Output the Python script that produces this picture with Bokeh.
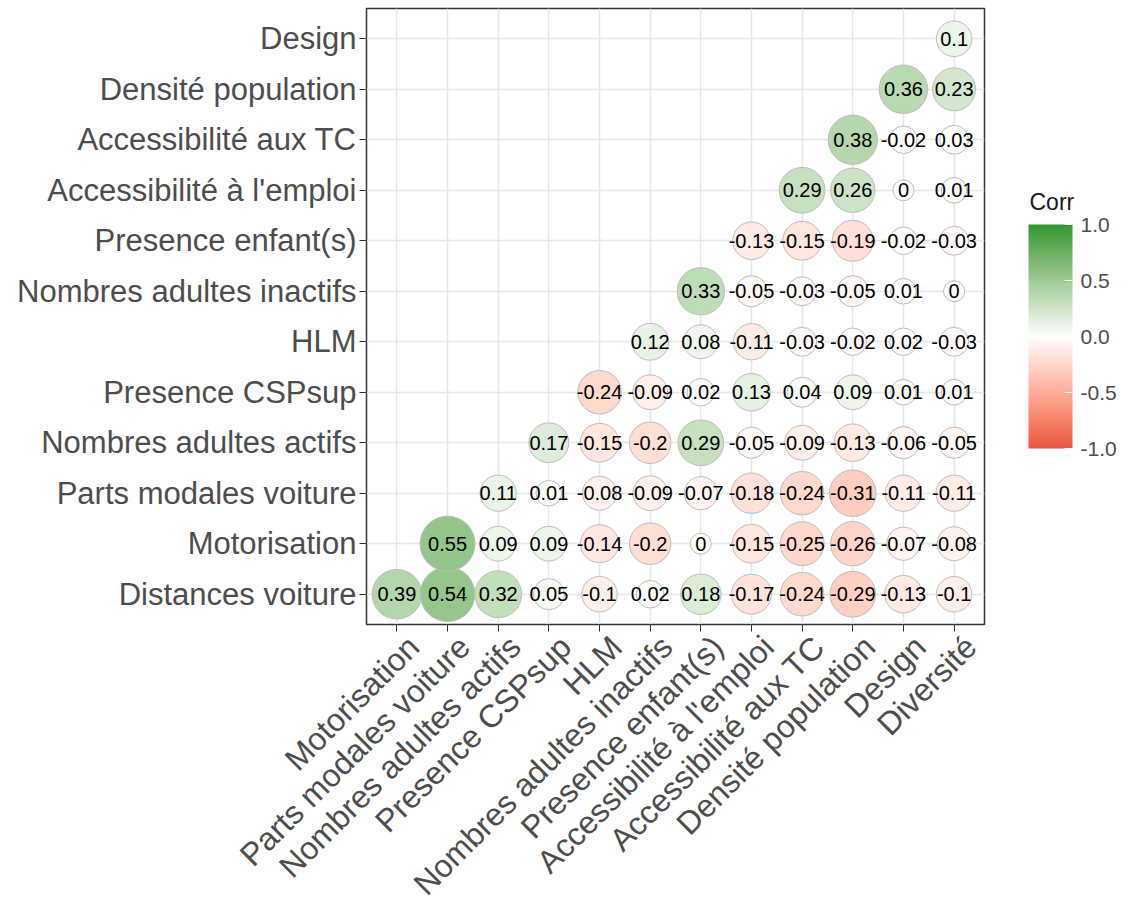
import math
from bokeh.plotting import figure
from bokeh.models import (ColumnDataSource, Range1d, FixedTicker, LinearColorMapper,
                          ColorBar, PrintfTickFormatter, LinearAxis)
from bokeh.core.properties import value
from bokeh.embed import file_html
from bokeh.resources import INLINE

# ---------------- data ----------------
variables = ["Distances voiture", "Motorisation", "Parts modales voiture",
             "Nombres adultes actifs", "Presence CSPsup", "HLM",
             "Nombres adultes inactifs", "Presence enfant(s)",
             "Accessibilité à l'emploi", "Accessibilité aux TC",
             "Densité population", "Design", "Diversité"]
x_labels = variables[1:]
y_labels = variables[:-1]

# correlations of each row variable with the variables that follow it
r_distances = [0.39, 0.54, 0.32, 0.05, -0.10, 0.02, 0.18, -0.17, -0.24, -0.29, -0.13, -0.10]
r_motorisation = [0.55, 0.09, 0.09, -0.14, -0.20, 0.00, -0.15, -0.25, -0.26, -0.07, -0.08]
r_parts_modales = [0.11, 0.01, -0.08, -0.09, -0.07, -0.18, -0.24, -0.31, -0.11, -0.11]
r_adultes_actifs = [0.17, -0.15, -0.20, 0.29, -0.05, -0.09, -0.13, -0.06, -0.05]
r_csp_sup = [-0.24, -0.09, 0.02, 0.13, 0.04, 0.09, 0.01, 0.01]
r_hlm = [0.12, 0.08, -0.11, -0.03, -0.02, 0.02, -0.03]
r_adultes_inactifs = [0.33, -0.05, -0.03, -0.05, 0.01, 0.00]
r_enfants = [-0.13, -0.15, -0.19, -0.02, -0.03]
r_acc_emploi = [0.29, 0.26, 0.00, 0.01]
r_acc_tc = [0.38, -0.02, 0.03]
r_densite = [0.36, 0.23]
r_design = [0.10]

rows = [r_distances, r_motorisation, r_parts_modales, r_adultes_actifs, r_csp_sup,
        r_hlm, r_adultes_inactifs, r_enfants, r_acc_emploi, r_acc_tc, r_densite, r_design]

colorbar_ticks = [-1.0, -0.5, 0.0, 0.5, 1.0]
legend_title = "Corr"

LOW, MID, HIGH = "#E8553D", "#FFFFFF", "#2F952F"

# ---------------- colour helpers (CIELAB interpolation like ggplot2) ----------------
def _hex_rgb(h):
    h = h.lstrip("#")
    return [int(h[i:i + 2], 16) / 255.0 for i in (0, 2, 4)]

def _to_lab(h):
    r, g, b = [c / 12.92 if c <= 0.04045 else ((c + 0.055) / 1.055) ** 2.4 for c in _hex_rgb(h)]
    X = (0.4124 * r + 0.3576 * g + 0.1805 * b) / 0.95047
    Y = (0.2126 * r + 0.7152 * g + 0.0722 * b) / 1.0
    Z = (0.0193 * r + 0.1192 * g + 0.9505 * b) / 1.08883
    d = 6 / 29
    f = lambda t: t ** (1 / 3) if t > d ** 3 else t / (3 * d * d) + 4 / 29
    fx, fy, fz = f(X), f(Y), f(Z)
    return (116 * fy - 16, 500 * (fx - fy), 200 * (fy - fz))

def _from_lab(L, a, b):
    d = 6 / 29
    fy = (L + 16) / 116
    fx = fy + a / 500
    fz = fy - b / 200
    finv = lambda t: t ** 3 if t > d else 3 * d * d * (t - 4 / 29)
    X, Y, Z = finv(fx) * 0.95047, finv(fy), finv(fz) * 1.08883
    r = 3.2406 * X - 1.5372 * Y - 0.4986 * Z
    g = -0.9689 * X + 1.8758 * Y + 0.0415 * Z
    bb = 0.0557 * X - 0.2040 * Y + 1.0570 * Z
    out = []
    for c in (r, g, bb):
        c = 12.92 * c if c <= 0.0031308 else 1.055 * c ** (1 / 2.4) - 0.055
        out.append(min(255, max(0, round(c * 255))))
    return "#%02X%02X%02X" % tuple(out)

lab_low, lab_mid, lab_high = _to_lab(LOW), _to_lab(MID), _to_lab(HIGH)

def _ramp(v):
    end = lab_high if v >= 0 else lab_low
    t = abs(v)
    return _from_lab(*[m + (e - m) * t for m, e in zip(lab_mid, end)])

N = 256
palette = [_ramp(-1 + 2 * (k + 0.5) / N) for k in range(N)]
mapper = LinearColorMapper(palette=palette, low=-1, high=1)

# ---------------- cells ----------------
xs, ys, rs, labels, sizes = [], [], [], [], []
max_abs = max(abs(v) for row_ in rows for v in row_)
for i, row_ in enumerate(rows):
    for k, v in enumerate(row_):
        xs.append(i + k + 1)
        ys.append(i + 1)
        rs.append(v)
        labels.append(f"{v:g}" if v != 0 else "0")
        sizes.append(21 + 34 * math.sqrt(abs(v) / max_abs))

src = ColumnDataSource(dict(x=xs, y=ys, r=rs, label=labels, size=sizes))

FONT = "Liberation Sans"
FRAME_L, FRAME_T, FRAME_W, FRAME_H = 366, 8, 618, 616
x_lo, x_hi = 0.4, len(x_labels) + 0.6
y_lo, y_hi = 0.4, len(y_labels) + 0.6
px_per_y = FRAME_H / (y_hi - y_lo)

p = figure(frame_width=FRAME_W, frame_height=FRAME_H,
           x_range=Range1d(x_lo, x_hi), y_range=Range1d(y_lo, y_hi),
           x_axis_location=None,
           output_backend="svg", toolbar_location=None,
           min_border_left=FRAME_L, min_border_top=FRAME_T, min_border_right=140,
           min_border_bottom=0,
           background_fill_color="white", border_fill_color="white")

p.outline_line_color = "#333333"
p.outline_line_width = 1.5

cat_ticks_x = list(range(1, len(x_labels) + 1))
cat_ticks_y = list(range(1, len(y_labels) + 1))

# x axis 1: tick marks only (at category centres), no labels drawn
ax_ticks = LinearAxis(ticker=FixedTicker(ticks=cat_ticks_x))
ax_ticks.major_label_text_color = None
ax_ticks.major_label_text_font_size = "1px"
ax_ticks.major_label_standoff = 0
# x axis 2: rotated labels, anchored like ggplot (hjust = 1, vjust = 1)
label_shift = 0.33
ax_lab = LinearAxis(ticker=FixedTicker(ticks=[t + label_shift for t in cat_ticks_x]))
ax_lab.major_label_overrides = {t + label_shift: s for t, s in zip(cat_ticks_x, x_labels)}
ax_lab.major_label_orientation = math.pi / 4
ax_lab.major_tick_line_color = None
ax_lab.major_tick_out = 0
ax_lab.major_tick_in = 0
ax_lab.major_label_standoff = 10
p.add_layout(ax_ticks, "below")
p.add_layout(ax_lab, "below")

p.yaxis.ticker = FixedTicker(ticks=cat_ticks_y)
p.yaxis.major_label_overrides = {t: s for t, s in zip(cat_ticks_y, y_labels)}

for ax in (ax_ticks, ax_lab, p.yaxis[0]):
    ax.axis_line_color = None
    ax.minor_tick_line_color = None
    ax.major_label_text_font = FONT
for ax in (ax_lab, p.yaxis[0]):
    ax.major_label_text_color = "#4D4D4D"
for ax in (ax_ticks, p.yaxis[0]):
    ax.major_tick_line_color = "#333333"
    ax.major_tick_line_width = 1
    ax.major_tick_out = 7
    ax.major_tick_in = 0
ax_lab.major_label_text_font_size = "32px"
p.yaxis.major_label_text_font_size = "31px"
p.yaxis.major_label_standoff = 3

p.xgrid.ticker = FixedTicker(ticks=cat_ticks_x)
p.xgrid.grid_line_color = "#E6E6E6"
p.ygrid.grid_line_color = "#E6E6E6"
p.xgrid.grid_line_width = 1.5
p.ygrid.grid_line_width = 1.5

p.scatter("x", "y", size="size", source=src,
          fill_color={"field": "r", "transform": mapper},
          line_color="#BDBDBD", line_width=1)

p.text("x", "y", text="label", source=src, text_align="center", text_baseline="middle",
       text_font=value(FONT), text_font_size="20px", text_color="#000000")

# ---------------- colour bar legend, right of the panel ----------------
bar_left, bar_top, bar_w, bar_h, pad = 1028, 224, 44, 224, 4
cb = ColorBar(color_mapper=mapper, ticker=FixedTicker(ticks=colorbar_ticks),
              formatter=PrintfTickFormatter(format="%.1f"),
              width=bar_w, height=bar_h,
              location=(bar_left - FRAME_L - pad, (FRAME_T + FRAME_H) - (bar_top + bar_h) - pad),
              orientation="vertical",
              major_label_text_font=FONT, major_label_text_font_size="21px",
              major_label_text_color="#4D4D4D", label_standoff=8,
              major_tick_line_color="white", major_tick_in=8, major_tick_out=0,
              bar_line_color=None, border_line_color=None, background_fill_color=None,
              padding=pad, margin=0)
p.add_layout(cb, "center")

# legend title: drawn as the single label of an extra right-hand axis
title_mid_y = bar_top - 23                       # page y of the title's centre line
title_tick = y_lo + ((FRAME_T + FRAME_H) - title_mid_y) / px_per_y
ax_title = LinearAxis(ticker=FixedTicker(ticks=[title_tick]))
ax_title.major_label_overrides = {title_tick: legend_title}
ax_title.axis_line_color = None
ax_title.major_tick_line_color = None
ax_title.minor_tick_line_color = None
ax_title.major_tick_out = 0
ax_title.major_tick_in = 0
ax_title.major_label_standoff = bar_left + 1 - (FRAME_L + FRAME_W)
ax_title.major_label_text_font = FONT
ax_title.major_label_text_font_size = "23px"
ax_title.major_label_text_color = "#1A1A1A"
p.add_layout(ax_title, "right")

open("out.html", "w").write(file_html(p, INLINE))
